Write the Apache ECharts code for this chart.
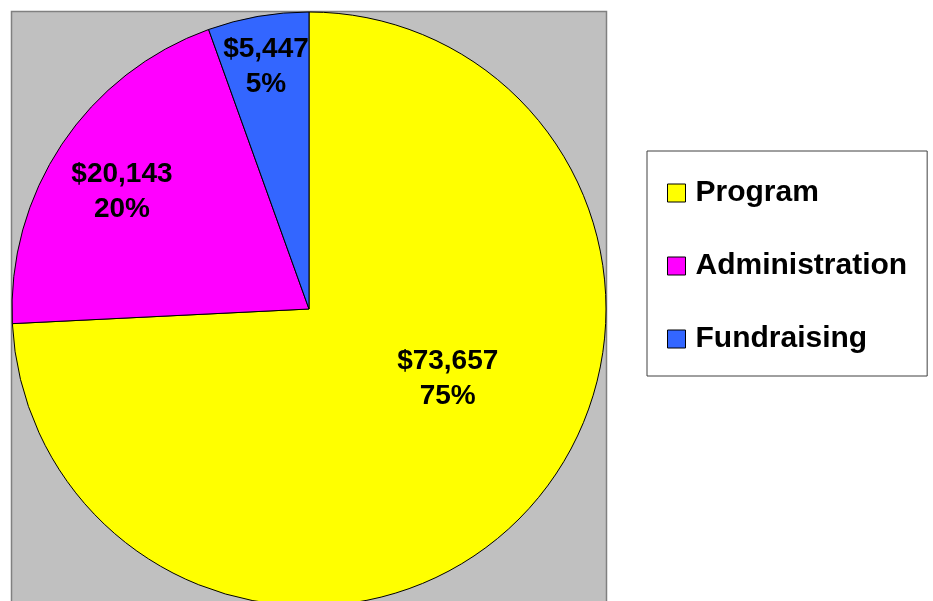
<!DOCTYPE html>
<html>
<head>
<meta charset="utf-8">
<script src="https://cdn.jsdelivr.net/npm/echarts@6/dist/echarts.min.js"></script>
<style>
  html, body { margin: 0; padding: 0; background: #fff; }
  #chart { width: 933px; height: 601px; }
</style>
</head>
<body>
<div id="chart"></div>
<script>
var categories = ['Program', 'Administration', 'Fundraising'];
var amounts = [73657, 20143, 5447];
var pctLabels = ['75%', '20%', '5%'];
var colors = ['#FFFF00', '#FF00FF', '#3366FF'];
// label nudges from the default "inside" spot, to sit where the original has them
var labelOffsets = [[29, -35], [-61, -33], [-17, -93]];

var myChart = echarts.init(document.getElementById('chart'));

var pieData = [];
for (var i = 0; i < categories.length; i++) {
  pieData.push({
    name: categories[i],
    value: amounts[i],
    itemStyle: { color: colors[i] },
    label: { offset: labelOffsets[i] }
  });
}

var option = {
  animation: false,
  backgroundColor: '#ffffff',
  graphic: [{
    type: 'rect',
    z: 0,
    shape: { x: 11.5, y: 11.5, width: 595, height: 620 },
    style: { fill: '#C0C0C0', stroke: '#808080', lineWidth: 1.5 }
  }],
  legend: {
    orient: 'vertical',
    left: 647,
    top: 151,
    data: categories,
    icon: 'rect',
    itemWidth: 18,
    itemHeight: 18,
    itemGap: 43,
    padding: [27, 20, 22, 20],
    borderColor: '#404040',
    borderWidth: 1,
    backgroundColor: '#ffffff',
    selectedMode: false,
    itemStyle: { borderColor: '#000', borderWidth: 1 },
    textStyle: {
      fontFamily: 'Liberation Sans, Arial, sans-serif',
      fontSize: 30,
      fontWeight: 'bold',
      color: '#000',
      padding: [0, 0, 0, 5]
    }
  },
  series: [{
    type: 'pie',
    center: [309, 309],
    radius: 297,
    startAngle: 90,
    clockwise: true,
    silent: true,
    itemStyle: { borderColor: '#000', borderWidth: 1 },
    label: {
      show: true,
      position: 'inside',
      fontFamily: 'Liberation Sans, Arial, sans-serif',
      fontSize: 28,
      fontWeight: 'bold',
      color: '#000',
      lineHeight: 35,
      align: 'center',
      formatter: function (p) {
        return '$' + amounts[p.dataIndex].toLocaleString('en-US') + '\n' + pctLabels[p.dataIndex];
      }
    },
    labelLine: { show: false },
    emphasis: { disabled: true },
    data: pieData
  }]
};
myChart.setOption(option);
</script>
</body>
</html>
